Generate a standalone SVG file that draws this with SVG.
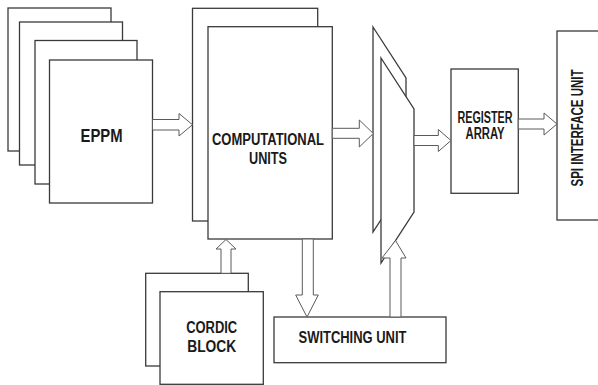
<svg xmlns="http://www.w3.org/2000/svg" width="598" height="385" viewBox="0 0 598 385">
<style>
.box{fill:#fff;stroke:#3a3a3a;stroke-width:1.3}
.arr{fill:#fff;stroke:#5a5a5a;stroke-width:1}
.t{font-family:"Liberation Sans",Arial,sans-serif;font-weight:bold;fill:#1a1a1a;text-anchor:middle}
.s15{font-size:16px}
.s18{font-size:19px}
</style>
<rect width="598" height="385" fill="#fff"/>
<g id="eppm">
<rect class="box" x="8" y="8" width="103" height="143"/>
<rect class="box" x="19.5" y="22" width="103" height="143"/>
<rect class="box" x="35" y="40.5" width="102" height="143.5"/>
<rect class="box" x="49.5" y="60" width="103" height="143"/>
<text class="t s18" x="101.5" y="141.5" textLength="42" lengthAdjust="spacingAndGlyphs">EPPM</text>
</g>
<g id="computational">
<rect class="box" x="192.5" y="8.3" width="125.2" height="212.7"/>
<rect class="box" x="208" y="26.7" width="124.3" height="212.3"/>
<text class="t s15" x="268" y="145" textLength="112" lengthAdjust="spacingAndGlyphs">COMPUTATIONAL</text>
<text class="t s15" x="268" y="164" textLength="38" lengthAdjust="spacingAndGlyphs">UNITS</text>
</g>
<g id="mux">
<polygon class="box" points="373,27 406,78 406,181 373,232"/>
<polygon class="box" points="381,58 414,109 414,212 381,263"/>
</g>
<g id="register">
<rect class="box" x="451" y="69" width="67.3" height="124.3"/>
<text class="t s15" x="485" y="122.7" textLength="55" lengthAdjust="spacingAndGlyphs">REGISTER</text>
<text class="t s15" x="485" y="139.3" textLength="39" lengthAdjust="spacingAndGlyphs">ARRAY</text>
</g>
<g id="spi">
<rect class="box" x="557" y="31" width="45" height="189"/>
<text class="t s15" x="0" y="0" transform="translate(583,128) rotate(-90)" textLength="117" lengthAdjust="spacingAndGlyphs">SPI INTERFACE UNIT</text>
</g>
<g id="cordic">
<rect class="box" x="145.7" y="273.3" width="102.6" height="92.7"/>
<rect class="box" x="160" y="291.7" width="103.3" height="92.6"/>
<text class="t s15" x="211.7" y="332.7" textLength="51" lengthAdjust="spacingAndGlyphs">CORDIC</text>
<text class="t s15" x="211.7" y="351.7" textLength="49" lengthAdjust="spacingAndGlyphs">BLOCK</text>
</g>
<g id="switching">
<rect class="box" x="274" y="317" width="172" height="45.7"/>
<text class="t s15" x="352.5" y="342.7" textLength="108" lengthAdjust="spacingAndGlyphs">SWITCHING UNIT</text>
</g>
<g id="connectors">
<polygon class="arr" points="152.5,119.5 179,119.5 179,113.5 192.5,124.75 179,136 179,130 152.5,130"/>
<polygon class="arr" points="332.3,128.3 359.3,128.3 359.3,120 373.3,133.5 359.3,147 359.3,138.3 332.3,138.3"/>
<polygon class="arr" points="414,135.5 438.3,135.5 438.3,129.5 451,140.5 438.3,151.5 438.3,145.5 414,145.5"/>
<polygon class="arr" points="518.3,119 544,119 544,113 557,124 544,135 544,129 518.3,129"/>
<polygon class="arr" points="221,273.3 221,249 216,249 226,239.5 236,249 231,249 231,273.3"/>
<polygon class="arr" points="302.3,239 302.3,295 295.7,295 307,317 318.3,295 313.3,295 313.3,239"/>
<polygon class="arr" points="390,317 390,258 382,258 395.5,240.5 406,258 401,258 401,317"/>
</g>
</svg>
